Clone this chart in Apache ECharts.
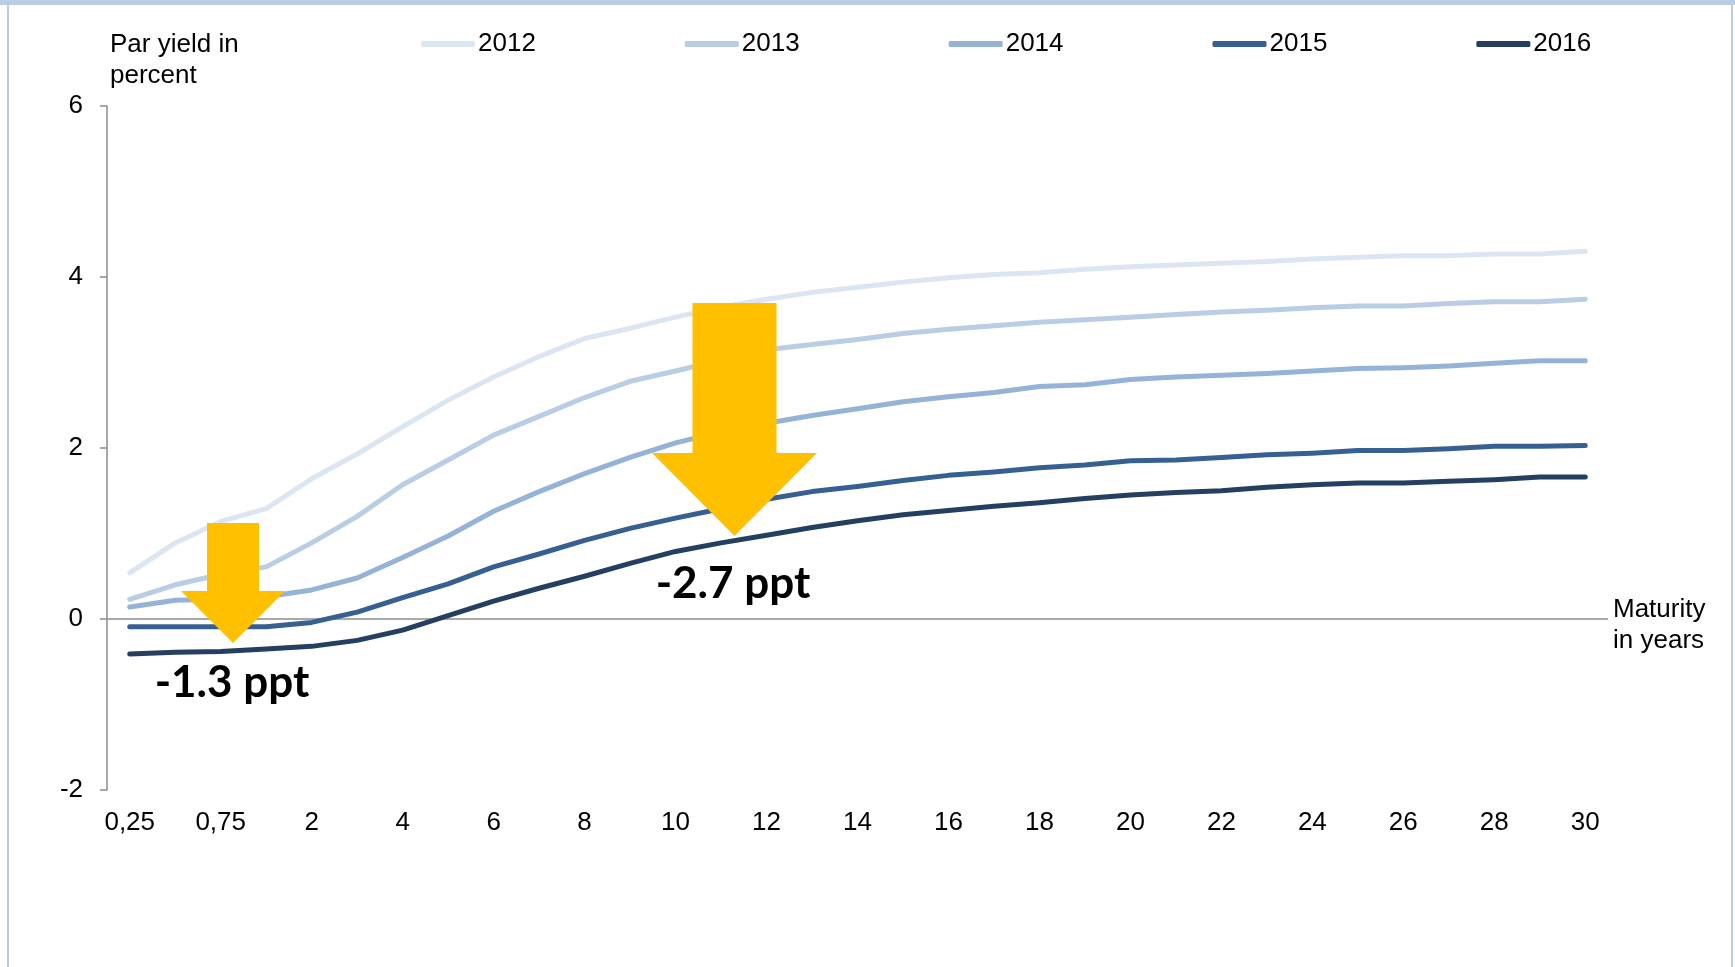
<!DOCTYPE html>
<html>
<head>
<meta charset="utf-8">
<script src="https://cdn.jsdelivr.net/npm/echarts@6/dist/echarts.min.js"></script>
<style>
  html, body { margin: 0; padding: 0; background: #ffffff; }
  #chart { width: 1735px; height: 967px; }
</style>
</head>
<body>
<div id="chart"></div>
<script>
// ---- data ----
const maturities = ['0,25','0,5','0,75','1','2','3','4','5','6','7','8','9','10','11','12','13','14','15','16','17','18','19','20','21','22','23','24','25','26','27','28','29','30'];
const shownLabels = ['0,25','0,75','2','4','6','8','10','12','14','16','18','20','22','24','26','28','30'];
const yTicks = [-2, 0, 2, 4, 6];

const y2012 = [0.54,0.89,1.14,1.29,1.64,1.93,2.25,2.56,2.83,3.07,3.28,3.40,3.53,3.65,3.74,3.82,3.88,3.94,3.99,4.03,4.05,4.09,4.12,4.14,4.16,4.18,4.21,4.23,4.25,4.25,4.27,4.27,4.30];
const y2013 = [0.23,0.40,0.52,0.61,0.89,1.20,1.57,1.86,2.15,2.37,2.59,2.78,2.90,3.03,3.15,3.21,3.27,3.34,3.39,3.43,3.47,3.50,3.53,3.56,3.59,3.61,3.64,3.66,3.66,3.69,3.71,3.71,3.74];
const y2014 = [0.14,0.22,0.23,0.26,0.34,0.48,0.72,0.97,1.26,1.49,1.70,1.89,2.06,2.19,2.29,2.38,2.46,2.54,2.60,2.65,2.72,2.74,2.80,2.83,2.85,2.87,2.90,2.93,2.94,2.96,2.99,3.02,3.02];
const y2015 = [-0.09,-0.09,-0.09,-0.09,-0.04,0.08,0.25,0.41,0.61,0.76,0.92,1.06,1.18,1.29,1.40,1.49,1.55,1.62,1.68,1.72,1.77,1.80,1.85,1.86,1.89,1.92,1.94,1.97,1.97,1.99,2.02,2.02,2.03];
const y2016 = [-0.41,-0.39,-0.38,-0.35,-0.32,-0.25,-0.13,0.04,0.21,0.36,0.50,0.65,0.79,0.89,0.98,1.07,1.15,1.22,1.27,1.32,1.36,1.41,1.45,1.48,1.50,1.54,1.57,1.59,1.59,1.61,1.63,1.66,1.66];

const seriesNames = ['2012','2013','2014','2015','2016'];
const seriesData = [y2012, y2013, y2014, y2015, y2016];
const colors = ['#dce6f2','#b9cde5','#95b3d7','#376092','#243f60'];

const annotations = [
  { text: '-1.3 ppt' },
  { text: '-2.7 ppt' }
];

// ---- chart ----
const FONT = '"Liberation Sans", Arial, sans-serif';
const chart = echarts.init(document.getElementById('chart'), null, { renderer: 'canvas' });

const series = seriesNames.map((name, i) => {
  const s = {
    name: name,
    type: 'line',
    data: seriesData[i],
    symbol: 'none',
    showSymbol: false,
    smooth: false,
    lineStyle: { color: colors[i], width: 5, cap: 'round', join: 'round' },
    itemStyle: { color: colors[i] },
    z: 3 + i,
    silent: true
  };
  if (i === 0) {
    s.markLine = {
      silent: true,
      symbol: ['none', 'none'],
      label: { show: false },
      lineStyle: { color: '#8c8c8c', width: 1.5, type: 'solid' },
      data: [{ yAxis: 0 }],
      z: 1
    };
  }
  return s;
});

function arrow(cx, top, shaftHalf, headHalf, headBase, tip) {
  return [
    [cx - shaftHalf, top], [cx + shaftHalf, top], [cx + shaftHalf, headBase],
    [cx + headHalf, headBase], [cx, tip], [cx - headHalf, headBase], [cx - shaftHalf, headBase]
  ];
}

chart.setOption({
  backgroundColor: '#ffffff',
  animation: false,
  textStyle: { fontFamily: FONT },
  grid: { left: 107, right: 127, top: 106, bottom: 177, containLabel: false },
  legend: {
    data: seriesNames,
    left: 421,
    top: 31,
    padding: 0,
    itemWidth: 54,
    itemHeight: 6,
    itemGap: 149,
    icon: 'roundRect',
    textStyle: { fontFamily: FONT, fontSize: 26, color: '#000000', padding: [0, 0, 0, -2] },
    selectedMode: false
  },
  xAxis: {
    type: 'category',
    data: maturities,
    boundaryGap: true,
    axisLine: { show: false },
    axisTick: { show: false },
    splitLine: { show: false },
    axisLabel: {
      interval: 1,
      margin: 20,
      fontFamily: FONT,
      fontSize: 26,
      color: '#000000',
      formatter: v => (shownLabels.indexOf(v) >= 0 ? v : '')
    }
  },
  yAxis: {
    type: 'value',
    min: yTicks[0],
    max: yTicks[yTicks.length - 1],
    interval: 2,
    axisLine: { show: true, lineStyle: { color: '#8c8c8c', width: 1.5 } },
    axisTick: { show: true, inside: false, length: 7, lineStyle: { color: '#8c8c8c', width: 1.5 } },
    splitLine: { show: false },
    axisLabel: { margin: 24, fontFamily: FONT, fontSize: 26, color: '#000000' }
  },
  series: series,
  graphic: [
    // frame
    { type: 'rect', shape: { x: 0, y: 0, width: 1735, height: 5 }, style: { fill: '#b9cde5' }, z: 100 },
    { type: 'rect', shape: { x: 7, y: 0, width: 2, height: 967 }, style: { fill: '#b9cde5' }, z: 100 },
    { type: 'rect', shape: { x: 1731, y: 0, width: 2, height: 967 }, style: { fill: '#b9cde5' }, z: 100 },
    // axis titles
    { type: 'text', left: 110, top: 29, z: 100,
      style: { text: 'Par yield in\npercent', font: '26px ' + FONT, fill: '#000000', lineHeight: 31 } },
    { type: 'text', left: 1613, top: 594, z: 100,
      style: { text: 'Maturity\nin years', font: '26px ' + FONT, fill: '#000000', lineHeight: 31 } },
    // arrows
    { type: 'polygon', z: 50, shape: { points: arrow(233, 523, 26, 52, 591, 643) }, style: { fill: '#ffc000' } },
    { type: 'polygon', z: 50, shape: { points: arrow(734.5, 303, 42, 82.5, 453, 536) }, style: { fill: '#ffc000' } },
    // annotation labels
    { type: 'text', x: 232, y: 683, z: 60,
      style: { text: annotations[0].text, font: 'bold 44px Lato, "Open Sans", sans-serif', fill: '#000000', align: 'center', verticalAlign: 'middle' } },
    { type: 'text', x: 733, y: 584, z: 60,
      style: { text: annotations[1].text, font: 'bold 44px Lato, "Open Sans", sans-serif', fill: '#000000', align: 'center', verticalAlign: 'middle' } }
  ]
});
</script>
</body>
</html>
